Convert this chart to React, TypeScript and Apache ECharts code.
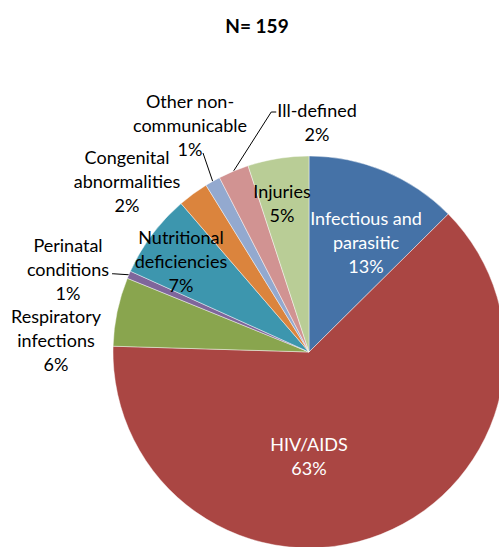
import React, { useEffect, useRef } from "react";
import * as echarts from "echarts";

const titleText = "N= 159";
const categories = [
  "Infectious and\nparasitic",
  "HIV/AIDS",
  "Respiratory\ninfections",
  "Perinatal\nconditions",
  "Nutritional\ndeficiencies",
  "Congenital\nabnormalities",
  "Other non-\ncommunicable",
  "Ill-defined",
  "Injuries",
];
const counts = [20, 100, 9, 1, 11, 4, 2, 4, 8];

const sliceColors = [
  "#4572A7",
  "#AA4643",
  "#89A54E",
  "#7F669B",
  "#3D96AE",
  "#DB843D",
  "#93A9CF",
  "#D19392",
  "#B9CD96",
];
const labelColors = ["#ffffff", "#ffffff", "#000000", "#000000", "#000000", "#000000", "#000000", "#000000", "#000000"];
const labelInside = [true, true, false, false, true, false, false, false, true];
// label block centres (px)
const labelCenters: [number, number][] = [
  [366, 242],
  [309, 456],
  [56, 340],
  [68, 269],
  [181, 261],
  [127, 181],
  [190, 125],
  [317, 122],
  [282, 203],
];
const leaderKind: (string | null)[] = [null, null, null, "right", null, null, "below", "left", null];

export default function App() {
  const ref = useRef<HTMLDivElement>(null);
  useEffect(() => {
    if (!ref.current) return;
    const chart = echarts.init(ref.current, null, { renderer: "svg" });
    const data = categories.map((name, i) => ({
      name,
      value: counts[i],
      itemStyle: { color: sliceColors[i] },
      label: { color: labelColors[i], position: labelInside[i] ? "inside" : "outside" },
      labelLine: { show: leaderKind[i] != null },
    }));
    chart.setOption({
      animation: false,
      title: {
        text: titleText,
        left: 252,
        top: 11,
        textAlign: "center",
        textStyle: { fontFamily: "Lato", fontWeight: "bold", fontSize: 19, color: "#000" },
      },
      series: [
        {
          type: "pie",
          center: [309, 352],
          radius: 196,
          startAngle: 90,
          clockwise: true,
          percentPrecision: 0,
          avoidLabelOverlap: false,
          data,
          itemStyle: { borderColor: "rgba(255,255,255,0.55)", borderWidth: 0.8 },
          label: {
            show: true,
            formatter: (p: any) => `${p.name}\n${p.percent}%`,
            fontFamily: "Lato",
            fontSize: 18,
            lineHeight: 24,
            align: "center",
          },
          labelLine: {
            show: true,
            length: 10,
            length2: 10,
            smooth: false,
            lineStyle: { color: "#000", width: 1 },
          },
          emphasis: { disabled: true },
          labelLayout: (p: any) => {
            const i = p.dataIndex;
            const [x, y] = labelCenters[i];
            const w = p.labelRect.width;
            const h = p.labelRect.height;
            const res: any = { x, y, align: "center", verticalAlign: "middle", hideOverlap: false };
            const s = p.labelLinePoints && p.labelLinePoints[0];
            const k = leaderKind[i];
            if (k && s) {
              if (k === "right") {
                res.labelLinePoints = [s, [x + w / 2 + 4, s[1] - 1], [x + w / 2 + 3, s[1] - 1]];
              } else if (k === "below") {
                res.labelLinePoints = [s, [x + 13, y + h / 2 - 8], [x + 13, y + h / 2 - 8]];
              } else if (k === "left") {
                const left = x - w / 2;
                const top = y - h / 2;
                res.labelLinePoints = [s, [left - 6, top + 14], [left - 1, top + 14]];
              }
            }
            return res;
          },
        },
      ],
    });
    return () => chart.dispose();
  }, []);
  return (
    <div
      ref={ref}
      style={{ position: "absolute", left: 0, top: 0, width: 499, height: 547, background: "#fff" }}
    />
  );
}
